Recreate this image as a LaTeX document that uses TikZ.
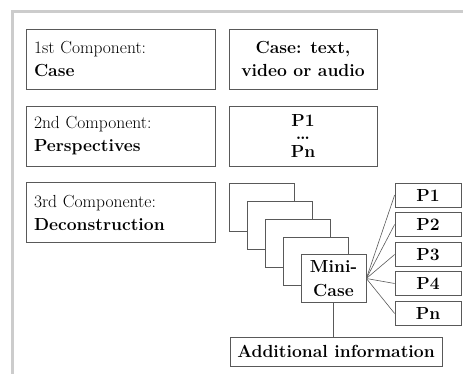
\documentclass[tikz,border=0pt]{standalone}
\usepackage{fontspec}
\usetikzlibrary{positioning}
\definecolor{boxgray}{gray}{0.35}
\definecolor{framegray}{gray}{0.8}
\begin{document}
\begin{tikzpicture}[x=1pt,y=-1pt,
  box/.style={draw=boxgray, fill=white, line width=0.7pt, inner sep=0pt, font=\fontsize{17.5}{23}\selectfont},
  compbox/.style={box, minimum width=189pt, minimum height=60pt, text width=173pt, align=left},
  descbox/.style={box, minimum width=148pt, minimum height=60pt, align=center, font=\fontsize{17.5}{23}\selectfont\bfseries},
  sheet/.style={box, minimum width=65pt, minimum height=48pt},
  pbox/.style={box, minimum width=66pt, minimum height=24pt, font=\fontsize{17.5}{23}\selectfont\bfseries},
  link/.style={draw=boxgray, line width=0.6pt}]

 \useasboundingbox (0,0) rectangle (463,374);
 \draw[framegray, line width=3pt] (12,374) -- (12,12) -- (463,12); % Marco

 % Componentes
 \node[compbox] (comp1) at (120.5,59) {1st Component:\\\textbf{Case}};
 \node[compbox] (comp2) at (120.5,136) {2nd Component:\\\textbf{Perspectives}};
 \node[compbox] (comp3) at (120.5,212.5) {3rd Componente:\\\textbf{Deconstruction}};

 \node[descbox] (case) at (303,59) {Case: text,\\video or audio};
 \node[descbox] (persp) at (303,136) {P1\\[-10pt]\ldots\\[-5pt]Pn};

 % Hojas apiladas
 \node[sheet] (sheet1) at (261.5,207) {};
 \node[sheet] (sheet2) at (279.5,225) {};
 \node[sheet] (sheet3) at (297.5,243) {};
 \node[sheet] (sheet4) at (315.5,261) {};
 \node[sheet, align=center, font=\fontsize{17.5}{24}\selectfont\bfseries] (mini) at (333.5,278.5) {Mini-\\Case};

 % Perspectivas del mini-caso
 \node[pbox] (p1) at (428,195) {P1};
 \node[pbox] (p2) at (428,224.5) {P2};
 \node[pbox] (p3) at (428,254.5) {P3};
 \node[pbox] (p4) at (428,283.5) {P4};
 \node[pbox] (pn) at (428,313.5) {Pn};

 \node[box, minimum width=212pt, minimum height=29pt, font=\fontsize{17.5}{23}\selectfont\bfseries] (addinfo) at (336,351.5) {Additional information};

 \draw[link] (mini.east) -- (p1.west);
 \draw[link] (mini.east) -- (p2.west);
 \draw[link] (mini.east) -- (p3.west);
 \draw[link] (mini.east) -- (p4.west);
 \draw[link] (mini.east) -- (pn.west);
 \draw[link] (mini.south) -- (mini.south |- addinfo.north); % Informacion adicional

\end{tikzpicture}
\end{document}
